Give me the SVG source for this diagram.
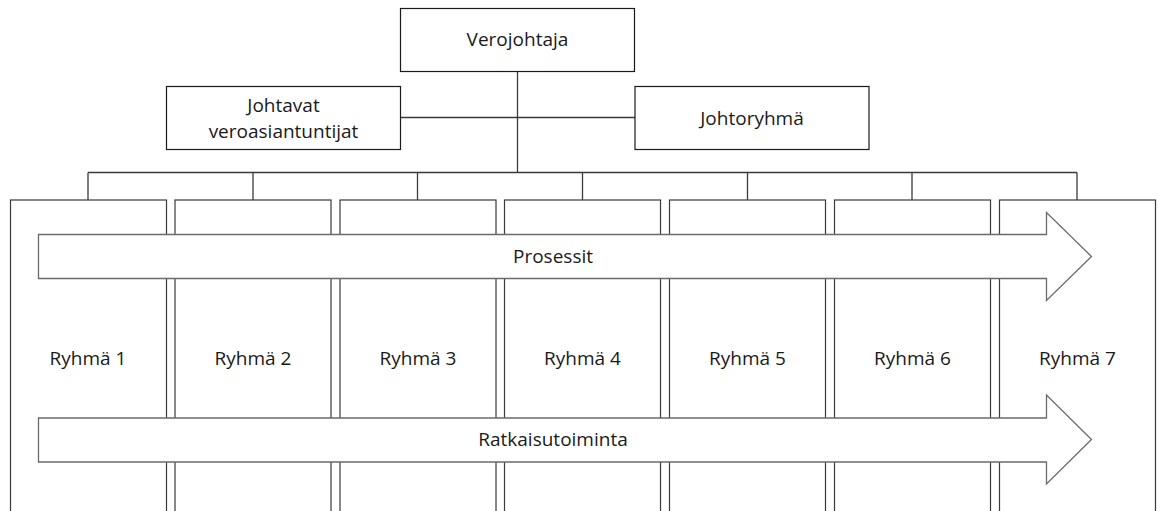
<svg xmlns="http://www.w3.org/2000/svg" width="1158" height="511" viewBox="0 0 1158 511">
  <style>
    .box { fill: #ffffff; stroke: #1a1a1a; stroke-width: 1.2; }
    .group { fill: #ffffff; stroke: #3a3a3a; stroke-width: 1.2; }
    .arrow { fill: #ffffff; stroke: #6a6a6a; stroke-width: 1.3; stroke-linejoin: miter; }
    .wire { fill: none; stroke: #3a3a3a; stroke-width: 1.3; }
    .label { font-family: "Open Sans", "Liberation Sans", sans-serif; font-size: 19px; fill: #1a1a1a; text-anchor: middle; }
  </style>
  <rect width="1158" height="511" fill="#ffffff"/>

  <!-- connectors -->
  <g id="connectors">
    <line class="wire" x1="517.5" y1="71" x2="517.5" y2="172.5"/>
    <line class="wire" x1="401" y1="117.5" x2="635" y2="117.5"/>
    <line class="wire" x1="88" y1="172.5" x2="1077" y2="172.5"/>
    <line class="wire" x1="88" y1="172.5" x2="88" y2="200"/>
    <line class="wire" x1="253" y1="172.5" x2="253" y2="200"/>
    <line class="wire" x1="417.5" y1="172.5" x2="417.5" y2="200"/>
    <line class="wire" x1="582.5" y1="172.5" x2="582.5" y2="200"/>
    <line class="wire" x1="747.5" y1="172.5" x2="747.5" y2="200"/>
    <line class="wire" x1="912" y1="172.5" x2="912" y2="200"/>
    <line class="wire" x1="1077" y1="172.5" x2="1077" y2="200"/>
  </g>

  <!-- management -->
  <g id="verojohtaja">
    <rect class="box" x="400.5" y="8.5" width="234" height="63"/>
    <text class="label" x="517.5" y="46">Verojohtaja</text>
  </g>
  <g id="johtavat-veroasiantuntijat">
    <rect class="box" x="166.5" y="86.5" width="234" height="63"/>
    <text class="label" x="283.5" y="111.5">Johtavat</text>
    <text class="label" x="283.5" y="138">veroasiantuntijat</text>
  </g>
  <g id="johtoryhma">
    <rect class="box" x="635" y="86.5" width="234" height="63"/>
    <text class="label" x="752" y="125">Johtoryhmä</text>
  </g>

  <!-- groups (open at the bottom edge) -->
  <g id="ryhma-1">
    <rect class="group" x="10.5" y="200" width="156" height="330"/>
    <text class="label" x="88" y="365">Ryhmä 1</text>
  </g>
  <g id="ryhma-2">
    <rect class="group" x="175" y="200" width="156" height="330"/>
    <text class="label" x="253" y="365">Ryhmä 2</text>
  </g>
  <g id="ryhma-3">
    <rect class="group" x="340" y="200" width="156" height="330"/>
    <text class="label" x="418" y="365">Ryhmä 3</text>
  </g>
  <g id="ryhma-4">
    <rect class="group" x="504.5" y="200" width="156" height="330"/>
    <text class="label" x="582.5" y="365">Ryhmä 4</text>
  </g>
  <g id="ryhma-5">
    <rect class="group" x="669.5" y="200" width="156" height="330"/>
    <text class="label" x="747.5" y="365">Ryhmä 5</text>
  </g>
  <g id="ryhma-6">
    <rect class="group" x="834.5" y="200" width="156" height="330"/>
    <text class="label" x="912.5" y="365">Ryhmä 6</text>
  </g>
  <g id="ryhma-7">
    <rect class="group" x="999.5" y="200" width="156" height="330"/>
    <text class="label" x="1077.5" y="365">Ryhmä 7</text>
  </g>

  <!-- process arrows across the groups -->
  <g id="prosessit">
    <polygon class="arrow" points="38.5,234.5 1046.5,234.5 1046.5,212.5 1091.5,256.5 1046.5,300.5 1046.5,278.5 38.5,278.5"/>
    <text class="label" x="553" y="263">Prosessit</text>
  </g>
  <g id="ratkaisutoiminta">
    <polygon class="arrow" points="38.5,418 1046.5,418 1046.5,395 1091.5,439.5 1046.5,484 1046.5,462 38.5,462"/>
    <text class="label" x="553" y="446">Ratkaisutoiminta</text>
  </g>
</svg>
